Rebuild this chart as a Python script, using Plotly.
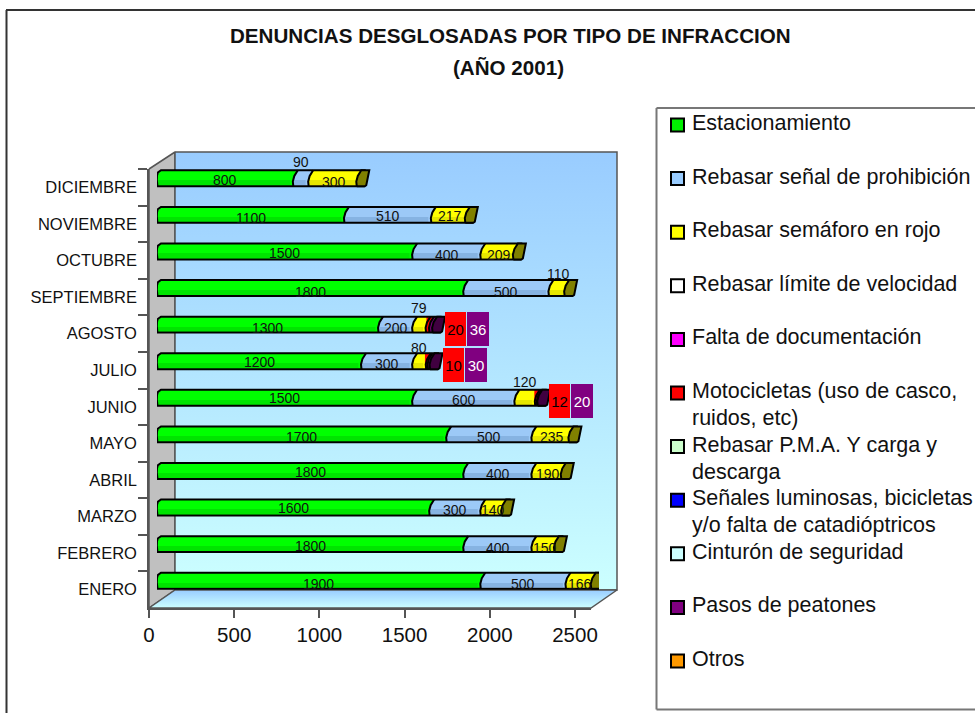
import plotly.graph_objects as go

meses = ["ENERO", "FEBRERO", "MARZO", "ABRIL", "MAYO", "JUNIO", "JULIO", "AGOSTO",
         "SEPTIEMBRE", "OCTUBRE", "NOVIEMBRE", "DICIEMBRE"]
estacionamiento = [1900, 1800, 1600, 1800, 1700, 1500, 1200, 1300, 1800, 1500, 1100, 800]
senal = [500, 400, 300, 400, 500, 600, 300, 200, 500, 400, 510, 90]
semaforo = [166, 150, 140, 190, 235, 120, 80, 79, 110, 209, 217, 300]
motocicletas = [0, 0, 0, 0, 0, 12, 10, 20, 0, 0, 0, 0]
pasos = [0, 0, 0, 0, 0, 20, 30, 36, 0, 0, 0, 0]

leyenda = [
    ("Estacionamiento", None, "#00f000"),
    ("Rebasar señal de prohibición", None, "#99ccff"),
    ("Rebasar semáforo en rojo", None, "#ffff00"),
    ("Rebasar límite de velocidad", None, "#ffffff"),
    ("Falta de documentación", None, "#ff00ff"),
    ("Motocicletas (uso de casco,", "ruidos, etc)", "#ff0000"),
    ("Rebasar P.M.A. Y carga y", "descarga", "#ccffcc"),
    ("Señales luminosas, bicicletas", "y/o falta de catadióptricos", "#0000ff"),
    ("Cinturón de seguridad", None, "#ccffff"),
    ("Pasos de peatones", None, "#800080"),
    ("Otros", None, "#ff9900"),
]

# Styling: colours and per-label vertical nudges (pixels below the bar centre)
W, H = 975, 713
PXX = 1 / 0.1704       # value units per pixel
PXY = 1 / 36.6         # category units per pixel
BAR_H = 16 * PXY
series = [
    (estacionamiento, "#00ff00", "#00e400", [3, 2, 0, 1, 3, 0, 1, 3, 4, 2, 3, 2]),
    (senal, "#9cc9f7", "#86b3e2", [3, 4, 2, 3, 3, 2, 3, 3, 4, 4, 1, -16]),
    (semaforo, "#ffff00", "#e6e600", [3, 4, 2, 3, 3, -16, -13, -17, -14, 4, 1, 4]),
    (motocicletas, "#ff0000", "#e60000", None),
    (pasos, "#800080", "#700070", None),
]
# Boxed labels of the thin segments: horizontal and vertical nudges in pixels
caja_moto = {5: 23, 6: 26, 7: 28}
caja_pasos = {5: 43, 6: 46, 7: 45.5}
caja_dy = {5: 3, 6: 4, 7: 4}

fig = go.Figure()


def px_poly(pts, fill=None, **kw):
    xs, ys = zip(*pts)
    args = dict(x=list(xs), y=list(ys), mode="lines", xaxis="x", yaxis="y", hoverinfo="skip", showlegend=False)
    if fill:
        args["fill"] = "toself"
    args.update(kw)
    fig.add_trace(go.Scatter(**args))


# Walls of the 3D box (decor, in page pixels)
px_poly([(149, 169), (175, 152), (175, 590), (149, 608), (149, 169)], True,
        fillcolor="#c0c0c0", line=dict(color="#555555", width=1.5))
px_poly([(175, 152), (617, 152), (617, 590), (175, 590), (175, 152)], True,
        fillgradient=dict(type="vertical", colorscale=[[0, "#ccffff"], [1, "#99ccff"]]),
        line=dict(color="#555555", width=1.5))
px_poly([(149, 608), (175, 590), (617, 590), (591, 608), (149, 608)], True,
        fillgradient=dict(type="vertical", colorscale=[[0, "#ccffff"], [1, "#99ccff"]]),
        line=dict(color="#555555", width=1.5))

# Legend swatches and labels
for i, (a, b, c) in enumerate(leyenda):
    yy = 125 + 53.6 * i
    fig.add_trace(go.Scatter(x=[677.5], y=[yy], mode="markers", xaxis="x", yaxis="y", hoverinfo="skip",
                             showlegend=False, name=a,
                             marker=dict(symbol="square", size=13, color=c, line=dict(color="#000000", width=2))))
    fig.add_annotation(x=690, y=yy - 2, xref="x", yref="y", text=a, showarrow=False, xanchor="left",
                       yanchor="middle", font=dict(size=21.5))
    if b:
        fig.add_annotation(x=690, y=yy + 25, xref="x", yref="y", text=b, showarrow=False, xanchor="left",
                           yanchor="middle", font=dict(size=21.5))

# Scale axes: carries the month labels and the value ticks
fig.add_trace(go.Bar(x=[0] * len(meses), y=meses, orientation="h", xaxis="x2", yaxis="y2",
                     hoverinfo="skip", showlegend=False, marker=dict(opacity=0)))

# Bars, offset by the depth of the 3D box
cum = [0] * len(meses)
bases = []
for vals, col, shade, _ in series:
    base = list(cum)
    bases.append(base)
    fig.add_trace(go.Bar(x=vals, y=list(range(len(meses))), base=base, orientation="h", width=BAR_H,
                         xaxis="x3", yaxis="y3", marker=dict(color=col, line=dict(width=0)), showlegend=False))
    fig.add_trace(go.Bar(x=vals, y=list(range(len(meses))), base=base, orientation="h", width=BAR_H * 0.3,
                         offset=-BAR_H * 0.42, xaxis="x3", yaxis="y3",
                         marker=dict(color=shade, line=dict(width=0)), showlegend=False, hoverinfo="skip"))
    cum = [c + v for c, v in zip(cum, vals)]

CURVE = [(0, 0.0), (-0.5, 0.3), (1, 0.65), (4.5, 1.0)]


def curve_at(xv, i):
    low = i - BAR_H / 2
    return [(xv + dx * PXX, low + t * BAR_H) for dx, t in CURVE]


# Slanted joins between segments: the tube bulges into the next segment
for s, (vals, col, _, _) in enumerate(series):
    xs, ys = [], []
    for i, v in enumerate(vals):
        if v <= 0:
            continue
        xe = bases[s][i] + v
        pts = curve_at(xe, i)
        top = i + BAR_H / 2
        poly = pts + [(xe - 3 * PXX, top), (xe - 3 * PXX, i - BAR_H / 2), pts[0]]
        xs += [p[0] for p in poly] + [None]
        ys += [p[1] for p in poly] + [None]
    fig.add_trace(go.Scatter(x=xs, y=ys, mode="lines", fill="toself", fillcolor=col, line=dict(width=0),
                             xaxis="x3", yaxis="y3", hoverinfo="skip", showlegend=False))

# Left rounding of the tubes, over the grey wall
xs, ys = [], []
for i in range(len(meses)):
    low, top = i - BAR_H / 2, i + BAR_H / 2
    poly = [(-2 * PXX, top + 0.02), (4 * PXX, top + 0.02), (0.5 * PXX, i + 0.08), (-2 * PXX, i + 0.08), (-2 * PXX, top + 0.02)]
    xs += [p[0] for p in poly] + [None]
    ys += [p[1] for p in poly] + [None]
fig.add_trace(go.Scatter(x=xs, y=ys, mode="lines", fill="toself", fillcolor="#c0c0c0", line=dict(width=0),
                         xaxis="x3", yaxis="y3", hoverinfo="skip", showlegend=False))

# Black outline of the tube plus separators
xs, ys = [], []
for i in range(len(meses)):
    low, top = i - BAR_H / 2, i + BAR_H / 2
    xs += [cum[i] + 5 * PXX, 0.5 * PXX, -0.2 * PXX, 0, 1 * PXX, 4 * PXX, cum[i] + 6 * PXX, None]
    ys += [low, low, i - 0.05, i + 0.08, i + 0.16, top, top, None]
    for s in range(5):
        v = series[s][0][i]
        xe = bases[s][i] + v
        if v > 0 and xe < cum[i]:
            pts = curve_at(xe, i)
            xs += [p[0] for p in pts] + [None]
            ys += [p[1] for p in pts] + [None]
fig.add_trace(go.Scatter(x=xs, y=ys, mode="lines", line=dict(color="#000000", width=2),
                         connectgaps=False, xaxis="x3", yaxis="y3", hoverinfo="skip", showlegend=False))

# End caps, darker shade of the last segment
for col, keep in (("#808000", lambda i: pasos[i] == 0), ("#400040", lambda i: pasos[i] > 0)):
    xs, ys = [], []
    for i in range(len(meses)):
        if not keep(i):
            continue
        low, top = i - BAR_H / 2, i + BAR_H / 2
        pts = curve_at(cum[i] - 3 * PXX, i)
        poly = pts + [(cum[i] + 9.5 * PXX, top), (cum[i] + 6.5 * PXX, low + 0.03), (cum[i] + 5 * PXX, low), pts[0]]
        xs += [p[0] for p in poly] + [None]
        ys += [p[1] for p in poly] + [None]
    fig.add_trace(go.Scatter(x=xs, y=ys, mode="lines", fill="toself", fillcolor=col,
                             line=dict(color="#000000", width=2), xaxis="x3", yaxis="y3",
                             hoverinfo="skip", showlegend=False))

# Data labels
for s, (vals, _, _, dy) in enumerate(series[:3]):
    for i, v in enumerate(vals):
        fig.add_annotation(x=bases[s][i] + v / 2, y=i, xref="x3", yref="y3", text=str(v), showarrow=False,
                           yshift=-dy[i], font=dict(size=14, color="#111111"))
for i in caja_moto:
    fig.add_annotation(x=bases[3][i] + motocicletas[i] / 2, y=i, xref="x3", yref="y3", text=str(motocicletas[i]),
                       showarrow=False, xshift=caja_moto[i], yshift=-caja_dy[i], bgcolor="#ff0000", width=21,
                       height=34, borderpad=0, borderwidth=0, font=dict(size=15, color="#000000"))
    fig.add_annotation(x=bases[4][i] + pasos[i] / 2, y=i, xref="x3", yref="y3", text=str(pasos[i]),
                       showarrow=False, xshift=caja_pasos[i], yshift=-caja_dy[i], bgcolor="#800080", width=22,
                       height=34, borderpad=0, borderwidth=0, font=dict(size=15, color="#ffffff"))

# Title
fig.add_annotation(x=510, y=35, xref="x", yref="y", text="<b>DENUNCIAS DESGLOSADAS POR TIPO DE INFRACCION</b>",
                   showarrow=False, font=dict(size=20.6))
fig.add_annotation(x=508, y=67, xref="x", yref="y", text="<b>(AÑO 2001)</b>", showarrow=False, font=dict(size=20.6))


def dom(a, b, total):
    return [a / total, b / total]


AX_W = 442
common = dict(showgrid=False, zeroline=False)
fig.update_layout(
    width=W, height=H, margin=dict(l=0, r=0, t=0, b=0, autoexpand=False), paper_bgcolor="#ffffff",
    plot_bgcolor="rgba(0,0,0,0)",
    barmode="overlay", bargap=0, showlegend=False,
    font=dict(family="Liberation Sans, Arial, sans-serif", color="#111111"),
    xaxis=dict(domain=[0, 1], range=[0, W], visible=False, **common),
    yaxis=dict(domain=[0, 1], range=[H, 0], visible=False, **common),
    xaxis2=dict(domain=dom(149, 149 + AX_W, W), range=[0, AX_W * PXX], anchor="y2", tickmode="array",
                tickvals=[0, 500, 1000, 1500, 2000, 2500], ticks="outside", ticklen=8, tickwidth=1.5,
                tickcolor="#555555", showline=True, linecolor="#555555", linewidth=1.5,
                tickfont=dict(size=20.5), ticklabelstandoff=0, **common),
    yaxis2=dict(domain=dom(H - 608, H - 169, H), type="category", categoryorder="array", categoryarray=meses,
                range=[-0.5, 11.5], anchor="x2", ticks="outside", ticklen=9, tickwidth=1.5, tickson="boundaries",
                tickcolor="#555555", showline=True, linecolor="#555555", linewidth=1.5,
                tickfont=dict(size=16.5), ticklabelstandoff=7, **common),
    xaxis3=dict(domain=dom(157, 157 + AX_W, W), range=[0, AX_W * PXX], anchor="y3", visible=False, **common),
    yaxis3=dict(domain=dom(H - 599, H - 160, H), range=[-0.5, 11.5], anchor="x3", visible=False, **common),
    shapes=[
        dict(type="line", xref="paper", yref="paper", x0=6.5 / W, x1=6.5 / W, y0=0, y1=1 - 10 / H,
             line=dict(color="#333333", width=2)),
        dict(type="line", xref="paper", yref="paper", x0=6 / W, x1=1, y0=1 - 10 / H, y1=1 - 10 / H,
             line=dict(color="#333333", width=2)),
        dict(type="line", xref="paper", yref="paper", x0=656.5 / W, x1=1, y0=1 - 108 / H, y1=1 - 108 / H,
             line=dict(color="#777777", width=2)),
        dict(type="line", xref="paper", yref="paper", x0=656.5 / W, x1=656.5 / W, y0=1 - 108 / H, y1=1 - 709.5 / H,
             line=dict(color="#777777", width=2)),
        dict(type="line", xref="paper", yref="paper", x0=656.5 / W, x1=1, y0=1 - 709.5 / H, y1=1 - 709.5 / H,
             line=dict(color="#777777", width=2)),
    ],
)

fig.write_html("out.html", config=dict(displayModeBar=False),
               post_script="document.body.style.margin='0';")
